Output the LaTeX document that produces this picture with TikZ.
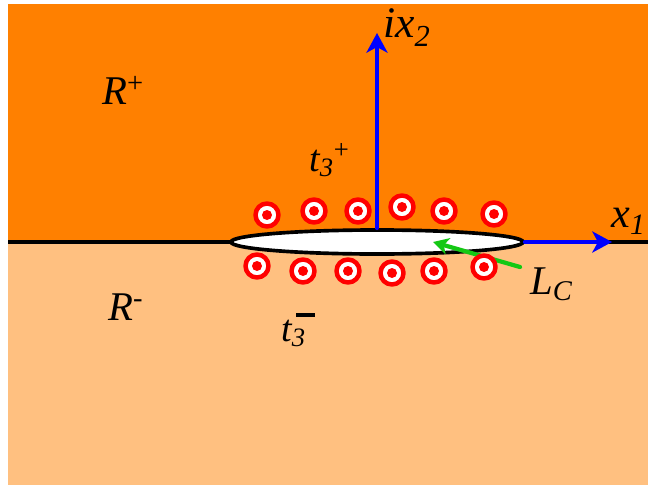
\documentclass[tikz,border=0pt]{standalone}
\usepackage{fontspec}
\setmainfont{Liberation Serif}
\usetikzlibrary{arrows.meta,shapes.geometric}
\definecolor{upperorange}{RGB}{255,128,0}
\definecolor{lowerorange}{RGB}{255,192,128}
\definecolor{axisblue}{RGB}{0,0,255}
\definecolor{pathgreen}{RGB}{20,200,20}
\tikzset{
  axis/.style={axisblue,line width=2.8pt,-{Stealth[length=14pt,width=15pt,inset=4pt]}},
  lbl/.style={anchor=base west,inner sep=0pt,font=\itshape}
}
\begin{document}
\begin{tikzpicture}[x=0.025cm,y=-0.025cm,line join=round,line cap=round]
	\useasboundingbox (0,0) rectangle (648,485);
	\fill[upperorange] (8,4) rectangle (648,242);
	\fill[lowerorange] (8,242) rectangle (648,485);
	\draw[line width=2.6pt,line cap=butt] (8,242)--(648,242);
	\node[ellipse,draw,fill=white,line width=2.6pt,inner sep=0pt,minimum width=7.3cm,minimum height=0.6cm] (cut) at (377,242) {};
	\path
	(377,33)coordinate(top)
	(612,242)coordinate(right)
	(520,267)coordinate(tail)
	(433,242)coordinate(tip)
	;
	\draw[axis] (cut.north)--(top);
	\draw[axis] (cut.east)--(right);
	\draw[pathgreen,line width=3pt,-{Stealth[length=11pt,width=12pt,inset=3pt]}] (tail)--(tip);
	% current rings above and below the cut
	\foreach \x/\y in {267/215,314/211,358/211,402/207,444/211,494/214,
		257/266,303/271,348/271,392/273,434/271,484/267}
	{
	\draw[red,fill=white,line width=3.2pt] (\x,\y) circle (11.5);
	\fill[red] (\x,\y) circle (5);
	}
	\node[lbl,font=\fontsize{29}{33}\selectfont\itshape] (rplus) at (102,105) {R\textsuperscript{\upshape +}};
	\node[lbl,font=\fontsize{29}{33}\selectfont\itshape] (rminus) at (108,320) {R\textsuperscript{\upshape -}};
	\node[lbl,font=\fontsize{31}{35}\selectfont\itshape] (ixtwo) at (383,38) {ix\textsubscript{2}};
	\node[lbl,font=\fontsize{30}{34}\selectfont\itshape] (xone) at (611,227) {x\textsubscript{1}};
	\node[lbl,font=\fontsize{29}{33}\selectfont\itshape] (lc) at (530,294) {L\textsubscript{C}};
	\node[lbl,font=\fontsize{27}{31}\selectfont\itshape] (tplus) at (309,171) {t\textsubscript{3}\textsuperscript{\upshape +}};
	\node[lbl,font=\fontsize{27}{31}\selectfont\itshape] (tminus) at (281,341) {t\rlap{\textsubscript{3}}\hspace{0.12em}\raisebox{0.62em}{\rule{0.5em}{0.13em}}};
\end{tikzpicture}
\end{document}
